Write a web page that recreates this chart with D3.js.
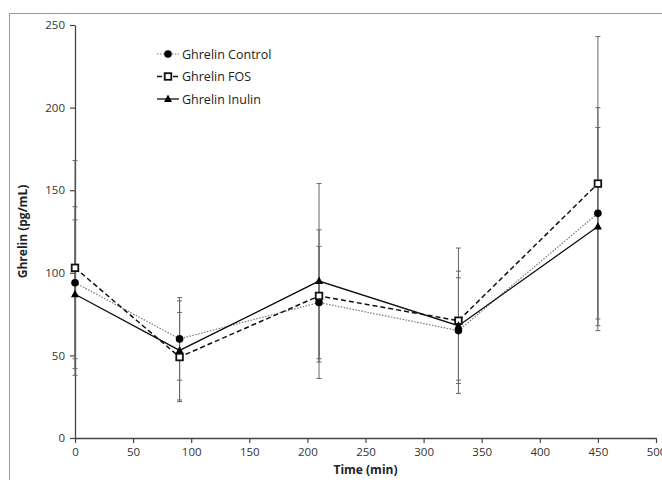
<!DOCTYPE html>
<html>
<head>
<meta charset="utf-8">
<script src="https://cdn.jsdelivr.net/npm/d3@7"></script>
<style>
  body { margin: 0; background: #fff; }
  text { font-family: "Open Sans", "Liberation Sans", sans-serif; }
</style>
</head>
<body>
<script>
(function () {
    var width = 662,
        height = 480;

    // time points (min)
    var times = [0, 90, 210, 330, 450];

    var controlMean = [94, 60, 82, 65, 136];
    var controlErr = [46, 25, 34, 32, 64];

    var fosMean = [103, 49, 86, 71, 154];
    var fosErr = [65, 27, 40, 44, 89];

    var inulinMean = [87, 53, 95, 68, 128];
    var inulinErr = [45, 30, 59, 33, 60];

    var xTicks = [0, 50, 100, 150, 200, 250, 300, 350, 400, 450, 500];
    var yTicks = [0, 50, 100, 150, 200, 250];

    var seriesNames = ["Ghrelin Control", "Ghrelin FOS", "Ghrelin Inulin"];

    var series = [
        {name: seriesNames[0], mean: controlMean, err: controlErr, dash: "1.5,1.5", color: "#777", lw: 1.2, marker: "circle"},
        {name: seriesNames[1], mean: fosMean, err: fosErr, dash: "5,3", color: "#111", lw: 1.5, marker: "square"},
        {name: seriesNames[2], mean: inulinMean, err: inulinErr, dash: null, color: "#111", lw: 1.3, marker: "triangle"}
    ];

    var x = d3.scaleLinear().domain([0, 500]).range([75, 656]),
        y = d3.scaleLinear().domain([0, 250]).range([438, 25]);

    var svg = d3.select("body").append("svg")
        .attr("width", width)
        .attr("height", height);

    // outer frame (runs off the right and bottom edge)
    svg.append("rect")
        .attr("x", 9.5).attr("y", 13.5)
        .attr("width", 700).attr("height", 500)
        .attr("fill", "none")
        .attr("stroke", "#999")
        .attr("stroke-width", 1);

    // axes
    var xAxis = svg.append("g")
        .attr("transform", "translate(0," + y(0) + ")")
        .call(d3.axisBottom(x).tickValues(xTicks).tickSize(5).tickSizeOuter(0).tickPadding(5));

    var yAxis = svg.append("g")
        .attr("transform", "translate(" + x(0) + ",0)")
        .call(d3.axisLeft(y).tickValues(yTicks).tickSize(5).tickSizeOuter(0).tickPadding(5));

    [xAxis, yAxis].forEach(function (g) {
        g.select(".domain").attr("stroke", "#444").attr("stroke-width", 1.3);
        g.selectAll(".tick line").attr("stroke", "#444").attr("stroke-width", 1.2);
        g.selectAll(".tick text").attr("fill", "#333").style("font-size", "11.5px");
    });

    // axis titles
    svg.append("text")
        .attr("x", x(250)).attr("y", 474)
        .attr("text-anchor", "middle")
        .style("font-size", "12px").style("font-weight", "bold").attr("fill", "#222")
        .text("Time (min)");

    svg.append("text")
        .attr("transform", "translate(27," + y(125) + ") rotate(-90)")
        .attr("text-anchor", "middle")
        .style("font-size", "12px").style("font-weight", "bold").attr("fill", "#222")
        .text("Ghrelin (pg/mL)");

    // error bars
    series.forEach(function (s) {
        var g = svg.append("g");
        times.forEach(function (t, i) {
            var cx = x(t),
                hi = y(s.mean[i] + s.err[i]),
                lo = y(Math.max(0, s.mean[i] - s.err[i]));
            g.append("line").attr("x1", cx).attr("x2", cx).attr("y1", hi).attr("y2", lo)
                .attr("stroke", "#666").attr("stroke-width", 1);
            [hi, lo].forEach(function (yy) {
                g.append("line").attr("x1", cx - 2.5).attr("x2", cx + 2.5).attr("y1", yy).attr("y2", yy)
                    .attr("stroke", "#666").attr("stroke-width", 1);
            });
        });
    });

    var line = d3.line()
        .x(function (d) { return x(d[0]); })
        .y(function (d) { return y(d[1]); });

    function drawMarker(g, type, cx, cy) {
        if (type == "circle") {
            g.append("circle").attr("cx", cx).attr("cy", cy).attr("r", 3.8).attr("fill", "#000");
        } else if (type == "square") {
            g.append("rect").attr("x", cx - 3.3).attr("y", cy - 3.3).attr("width", 6.6).attr("height", 6.6)
                .attr("fill", "#fff").attr("stroke", "#111").attr("stroke-width", 1.8);
        } else {
            g.append("path")
                .attr("d", "M" + cx + "," + (cy - 4.5) + "L" + (cx + 4) + "," + (cy + 3) + "L" + (cx - 4) + "," + (cy + 3) + "Z")
                .attr("fill", "#000");
        }
    }

    // lines and markers
    series.forEach(function (s) {
        var pts = times.map(function (t, i) { return [t, s.mean[i]]; });
        svg.append("path")
            .datum(pts)
            .attr("d", line)
            .attr("fill", "none")
            .attr("stroke", s.color)
            .attr("stroke-width", s.lw)
            .attr("stroke-dasharray", s.dash);
        var g = svg.append("g");
        pts.forEach(function (p) {
            drawMarker(g, s.marker, x(p[0]), y(p[1]));
        });
    });

    // legend
    var legend = svg.append("g");
    series.forEach(function (s, i) {
        var ly = 54 + i * 22.5;
        legend.append("line")
            .attr("x1", 157).attr("x2", 179).attr("y1", ly).attr("y2", ly)
            .attr("stroke", s.color).attr("stroke-width", s.lw)
            .attr("stroke-dasharray", s.dash);
        drawMarker(legend, s.marker, 168, ly);
        legend.append("text")
            .attr("x", 182).attr("y", ly + 4.5)
            .style("font-size", "12.5px").attr("fill", "#222")
            .text(s.name);
    });
}());
</script>
</body>
</html>
